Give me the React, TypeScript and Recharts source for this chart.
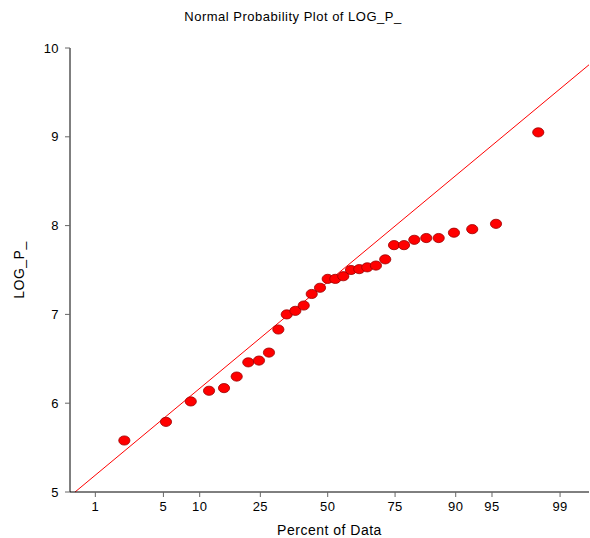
import React from "react";
import { ComposedChart, Scatter, XAxis, YAxis, ReferenceLine } from "recharts";

// Normal scores (z) of each plotted point
const normalScores = [
  -2.036, -1.619, -1.371, -1.188, -1.038, -0.911, -0.795, -0.688, -0.588, -0.494,
  -0.41, -0.324, -0.24, -0.16, -0.077, 0.0, 0.076, 0.156, 0.233, 0.316,
  0.396, 0.483, 0.576, 0.664, 0.764, 0.867, 0.987, 1.111, 1.264, 1.447,
  1.685, 2.108,
];
// LOG_P_ values
const logP = [
  5.58, 5.79, 6.02, 6.14, 6.17, 6.3, 6.46, 6.48, 6.57, 6.83,
  7.0, 7.04, 7.1, 7.23, 7.3, 7.4, 7.4, 7.43, 7.5, 7.51,
  7.53, 7.55, 7.62, 7.78, 7.78, 7.84, 7.86, 7.86, 7.92, 7.96,
  8.02, 9.05,
];
// Percent tick labels
const percentTicks = [1, 5, 10, 25, 50, 75, 90, 95, 99];
const yTicks = [5, 6, 7, 8, 9, 10];
// Fitted reference line (mean, sd)
const fitMean = 7.365;
const fitSd = 0.935;

const X_MIN = -2.58;
const X_MAX = 2.616;
const Y_MIN = 5;
const Y_MAX = 10;

// Inverse standard normal CDF (Acklam)
function probit(p: number): number {
  const a = [-39.69683028665376, 220.9460984245205, -275.9285104469687, 138.357751867269, -30.66479806614716, 2.506628277459239];
  const b = [-54.47609879822406, 161.5858368580409, -155.6989798598866, 66.80131188771972, -13.28068155288572];
  const c = [-0.007784894002430293, -0.3223964580411365, -2.400758277161838, -2.549732539343734, 4.374664141464968, 2.938163982698783];
  const d = [0.007784695709041462, 0.3224671290700398, 2.445134137142996, 3.754408661907416];
  const pl = 0.02425;
  if (p < pl) {
    const q = Math.sqrt(-2 * Math.log(p));
    return (((((c[0] * q + c[1]) * q + c[2]) * q + c[3]) * q + c[4]) * q + c[5]) / ((((d[0] * q + d[1]) * q + d[2]) * q + d[3]) * q + 1);
  }
  if (p > 1 - pl) {
    const q = Math.sqrt(-2 * Math.log(1 - p));
    return -(((((c[0] * q + c[1]) * q + c[2]) * q + c[3]) * q + c[4]) * q + c[5]) / ((((d[0] * q + d[1]) * q + d[2]) * q + d[3]) * q + 1);
  }
  const q = p - 0.5;
  const r = q * q;
  return ((((((a[0] * r + a[1]) * r + a[2]) * r + a[3]) * r + a[4]) * r + a[5]) * q) / (((((b[0] * r + b[1]) * r + b[2]) * r + b[3]) * r + b[4]) * r + 1);
}

const points = normalScores.map((z, i) => ({ z, v: logP[i] }));
const tickPositions = percentTicks.map((p) => probit(p / 100));

const FONT = "Arial, 'Liberation Sans', sans-serif";

const Ellipse = (props: any) => {
  const { cx, cy } = props;
  if (cx == null || cy == null) return null;
  return <ellipse cx={cx} cy={cy} rx={5.6} ry={4.6} fill="#ff0000" stroke="#9a0000" strokeWidth={0.8} />;
};

const XTick = (props: any) => {
  const { x, y, payload } = props;
  const idx = tickPositions.findIndex((t) => Math.abs(t - payload.value) < 1e-6);
  const label = idx >= 0 ? String(percentTicks[idx]) : "";
  return (
    <text x={x} y={y} dy="0.71em" textAnchor="middle" fontSize={13} fontFamily={FONT} fill="#000" letterSpacing={0.4}>
      {label}
    </text>
  );
};

const YTick = (props: any) => {
  const { x, y, payload } = props;
  return (
    <text x={x} y={y} dy="0.355em" textAnchor="end" fontSize={13} fontFamily={FONT} fill="#000" letterSpacing={0.4}>
      {payload.value}
    </text>
  );
};

const XLabel = (props: any) => {
  const vb = props.viewBox || {};
  const cx = vb.x + vb.width / 2;
  return (
    <text x={cx} y={535} textAnchor="middle" fontSize={14} fontFamily={FONT} fill="#000" letterSpacing={0.5}>
      Percent of Data
    </text>
  );
};

const YLabel = (props: any) => {
  const vb = props.viewBox || {};
  const cy = vb.y + vb.height / 2;
  const cx = 19;
  return (
    <text x={cx} y={cy} transform={`rotate(-90 ${cx} ${cy})`} textAnchor="middle" dominantBaseline="central" fontSize={14} fontFamily={FONT} fill="#000" letterSpacing={0.5}>
      LOG_P_
    </text>
  );
};

export default function App() {
  const xLeft = (Y_MIN - fitMean) / fitSd;
  const seg = [
    { x: xLeft, y: Y_MIN },
    { x: X_MAX, y: fitMean + fitSd * X_MAX },
  ];
  return (
    <div style={{ position: "absolute", left: 0, top: 0, width: 590, height: 538, background: "#fff" }}>
      <div
        style={{
          position: "absolute",
          left: 0,
          width: 590,
          top: 9,
          textAlign: "center",
          fontFamily: FONT,
          fontSize: 13,
          letterSpacing: 0.5,
        }}
      >
        <span style={{ position: "relative", left: -2 }}>Normal Probability Plot of LOG_P_</span>
      </div>
      <ComposedChart width={590} height={538} margin={{ top: 48, right: 1, bottom: 0, left: 0 }} data={points}>
        <XAxis
          type="number"
          dataKey="z"
          domain={[X_MIN, X_MAX]}
          ticks={tickPositions}
          allowDataOverflow
          height={46}
          stroke="#000"
          axisLine={{ stroke: "#000", strokeWidth: 1 }}
          tickLine={{ stroke: "#666" }}
          tickSize={5}
          tickMargin={5}
          tick={<XTick />}
          interval={0}
          label={<XLabel />}
        />
        <YAxis
          type="number"
          dataKey="v"
          domain={[Y_MIN, Y_MAX]}
          ticks={yTicks}
          allowDataOverflow
          width={70}
          axisLine={{ stroke: "#000", strokeWidth: 1 }}
          tickLine={{ stroke: "#666" }}
          tickSize={5}
          tickMargin={6}
          tick={<YTick />}
          interval={0}
          label={<YLabel />}
        />
        <ReferenceLine segment={seg} stroke="#ff0000" strokeWidth={1} ifOverflow="visible" />
        <Scatter data={points} dataKey="v" isAnimationActive={false} shape={<Ellipse />} />
      </ComposedChart>
    </div>
  );
}
